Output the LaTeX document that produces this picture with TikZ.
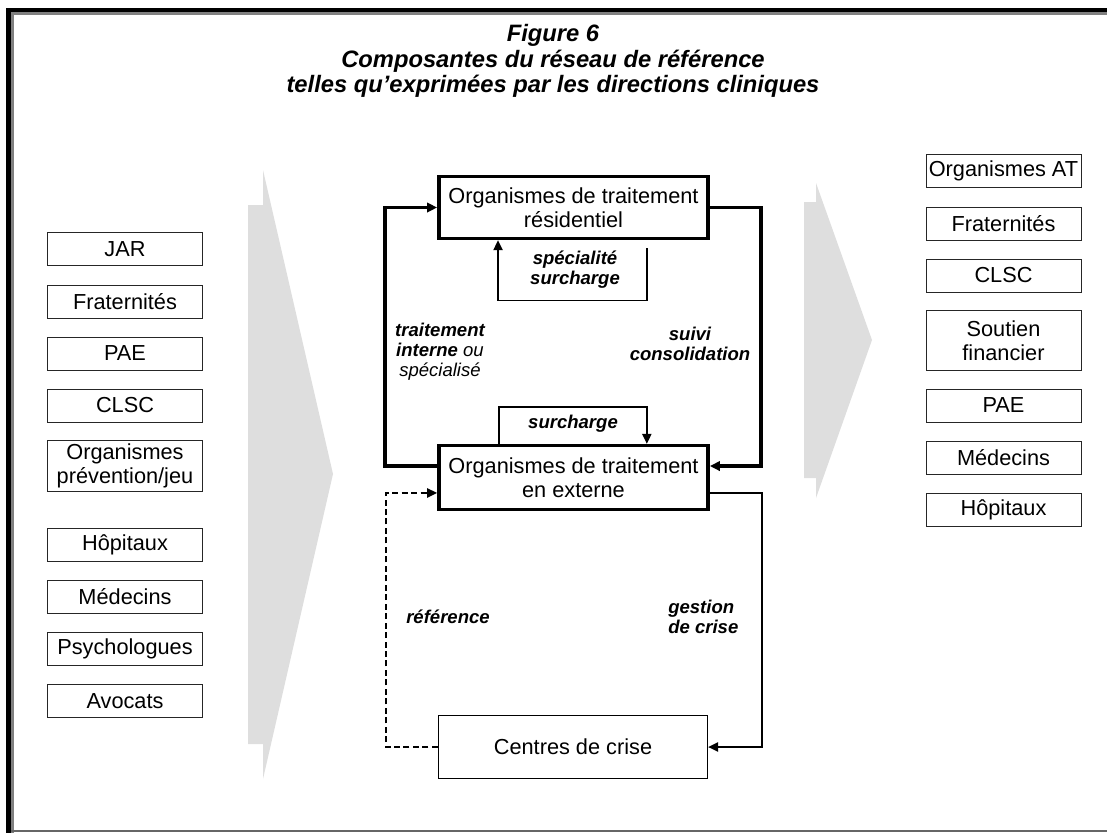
\documentclass[tikz,border=0pt]{standalone}
\usepackage{fontspec}
\setmainfont{Liberation Sans}
\usetikzlibrary{arrows.meta}

\newcommand{\cellfont}{\fontsize{16.3}{17.6}\selectfont}
\newcommand{\lblfont}{\fontsize{13.9}{15}\selectfont\bfseries\itshape}
\newcommand{\ttlfont}{\fontsize{17.8}{19}\selectfont\bfseries\itshape}

\tikzset{
  cell/.style={draw=black!85, line width=0.75pt, minimum width=116.25pt,
    minimum height=24.75pt, inner sep=0pt, align=center, font=\cellfont},
  hub/.style={draw, line width=2.6pt, minimum width=202pt, inner sep=0pt,
    align=center, font=\cellfont},
  lbl/.style={align=center, font=\lblfont, inner sep=0pt},
  tip/.style={-{Triangle[length=7.5pt,width=7pt]}},
  thickline/.style={line width=2.6pt},
  thinline/.style={line width=1.1pt},
  dashline/.style={line width=1.2pt, dash pattern=on 4.5pt off 2.6pt},
  chevron/.style={fill=black!13, draw=none}
}

\begin{document}
\begin{tikzpicture}[x=0.75pt, y=-0.75pt]
    \useasboundingbox (0,0) rectangle (1107,833);

    % Frame
    \fill[black] (6,8) rectangle (1107,12);
    \fill[black] (6,8) rectangle (11,833);
    \fill[black!50] (11,12) rectangle (1107,15);
    \fill[black!50] (11,12) rectangle (14,833);
    \draw[black!60, line width=1.2pt] (11,831) -- (1107,831);

    % Title
    \node[font=\ttlfont, align=center] (title) at (553,61)
        {Figure 6\\ Composantes du réseau de référence\\
         telles qu’exprimées par les directions cliniques};

    % Grey arrows
    \fill[chevron] (248,205) -- (263,205) -- (263,170) -- (333,474)
        -- (263,779) -- (263,744) -- (248,744) -- cycle;
    \fill[chevron] (804,202) -- (816,202) -- (816,183) -- (872,340)
        -- (816,498) -- (816,478) -- (804,478) -- cycle;

    % Left column
    \node[cell] (jar) at (125,249) {JAR};
    \node[cell] (fratG) at (125,301.5) {Fraternités};
    \node[cell] (paeG) at (125,353.5) {PAE};
    \node[cell] (clscG) at (125,405.5) {CLSC};
    \node[cell, minimum height=38.25pt] (prev) at (125,466) {Organismes\\ prévention/jeu};
    \node[cell] (hopG) at (125,544.5) {Hôpitaux};
    \node[cell] (medG) at (125,596.5) {Médecins};
    \node[cell] (psy) at (125,649) {Psychologues};
    \node[cell] (avo) at (125,701) {Avocats};

    % Right column
    \node[cell] (orgAT) at (1003.5,170.5) {Organismes AT};
    \node[cell] (fratD) at (1003.5,223.5) {Fraternités};
    \node[cell] (clscD) at (1003.5,275.5) {CLSC};
    \node[cell, minimum height=45pt] (soutien) at (1003.5,340.5) {Soutien\\ financier};
    \node[cell] (paeD) at (1003.5,405.5) {PAE};
    \node[cell] (medD) at (1003.5,457.5) {Médecins};
    \node[cell] (hopD) at (1003.5,510) {Hôpitaux};

    % Treatment organisations
    \node[hub, minimum height=46.5pt] (res) at (573.5,207.5)
        {Organismes de traitement\\ résidentiel};
    \node[hub, minimum height=48pt] (ext) at (573.5,477.5)
        {Organismes de traitement\\ en externe};
    \node[hub, line width=0.75pt, minimum height=47.25pt] (crise) at (573,747)
        {Centres de crise};

    % Links between them
    \draw[thickline, tip] ([yshift=8.6pt]ext.west) -- ++(-52,0) |- (res.west);
    \draw[thickline, tip] (res.east) -- ++(51,0) |- ([yshift=8.6pt]ext.east);
    \draw[thinline, tip] ([xshift=55pt,yshift=-6pt]res.south) -- ++(0,52)
        -| ([xshift=-56.6pt]res.south);
    \draw[thinline, tip] ([xshift=-56pt]ext.north) -- ++(0,-37)
        -| ([xshift=55pt]ext.north);
    \draw[dashline, tip] (crise.west) -- ++(-52,0) |- ([yshift=-11.6pt]ext.west);
    \draw[thinline, tip] ([yshift=-11.6pt]ext.east) -- ++(52,0) |- (crise.east);

    % Labels
    \node[lbl] (lspec) at (575,270) {spécialité\\ surcharge};
    \node[lbl] (lsurch) at (573,424) {surcharge};
    \node[lbl] (ltrait) at (440,352)
        {traitement\\ interne {\mdseries ou}\\ {\mdseries spécialisé}};
    \node[lbl] (lsuivi) at (690,344) {suivi\\ consolidation};
    \node[lbl] (lref) at (448,617) {référence};
    \node[lbl, align=left, anchor=west] (lgest) at (668,617) {gestion\\ de crise};
\end{tikzpicture}
\end{document}
